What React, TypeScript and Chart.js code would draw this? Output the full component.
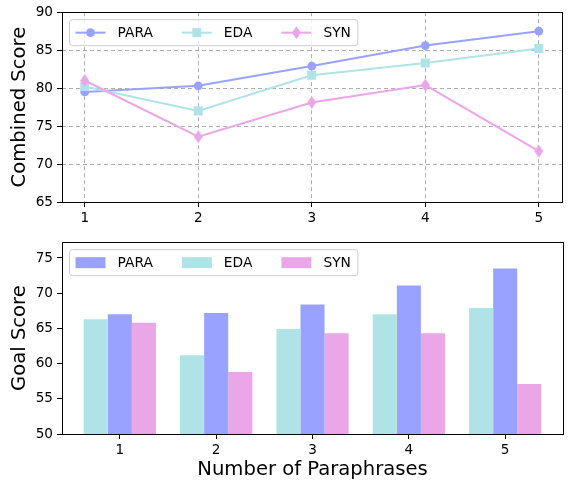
import React, { useEffect, useRef } from 'react';
import { Chart, registerables } from 'chart.js';

Chart.register(...registerables);

const paraphraseCounts = [1, 2, 3, 4, 5];
const seriesNames = ['PARA', 'EDA', 'SYN'];
const combinedPARA = [79.5, 80.3, 82.9, 85.6, 87.5];
const combinedEDA = [80.2, 77.0, 81.7, 83.3, 85.2];
const combinedSYN = [81.0, 73.6, 78.1, 80.4, 71.7];
const goalPARA = [67.0, 67.2, 68.4, 71.1, 73.5];
const goalEDA = [66.3, 61.2, 64.9, 67.0, 67.9];
const goalSYN = [65.8, 58.8, 64.3, 64.3, 57.1];
const combinedTicks = [65, 70, 75, 80, 85, 90];
const goalTicks = [50, 55, 60, 65, 70, 75];

const COLORS: Record<string, string> = { PARA: '#99a3ff', EDA: '#b0e3e6', SYN: '#eba6e8' };
const FONT = 'DejaVu Sans';
const TICK_SIZE = 13.6;
const LEGEND_SIZE = 13.8;
const LABEL_SIZE = 19.6;

function makeThinDiamond(color: string) {
  const c = document.createElement('canvas');
  c.width = 9;
  c.height = 13;
  const g = c.getContext('2d')!;
  g.fillStyle = color;
  g.beginPath();
  g.moveTo(4.5, 0);
  g.lineTo(9, 6.5);
  g.lineTo(4.5, 13);
  g.lineTo(0, 6.5);
  g.closePath();
  g.fill();
  return c;
}

const framePlugin = {
  id: 'frame',
  afterDraw(chart: any) {
    const { ctx, chartArea: a } = chart;
    ctx.save();
    ctx.strokeStyle = '#000';
    ctx.lineWidth = 1;
    ctx.strokeRect(Math.round(a.left) + 0.5, Math.round(a.top) + 0.5, Math.round(a.right - a.left), Math.round(a.bottom - a.top));
    ctx.restore();
  },
};

function drawMarker(ctx: CanvasRenderingContext2D, name: string, x: number, y: number) {
  ctx.fillStyle = COLORS[name];
  ctx.beginPath();
  if (name === 'PARA') {
    ctx.arc(x, y, 4.4, 0, Math.PI * 2);
  } else if (name === 'EDA') {
    ctx.rect(x - 4.5, y - 4.5, 9, 9);
  } else {
    ctx.moveTo(x, y - 6.5);
    ctx.lineTo(x + 4.5, y);
    ctx.lineTo(x, y + 6.5);
    ctx.lineTo(x - 4.5, y);
    ctx.closePath();
  }
  ctx.fill();
}

function insideLegend(kind: 'line' | 'bar') {
  return {
    id: 'insideLegend',
    afterDatasetsDraw(chart: any) {
      const { ctx, chartArea } = chart;
      ctx.save();
      ctx.font = `${LEGEND_SIZE}px "${FONT}"`;
      const labels: string[] = seriesNames.filter((n) => chart.data.datasets.some((d: any) => d.label === n));
      const handle = 30, textPad = 12, colSpace = 29, padL = 6, padR = 7, h = 26;
      const x0 = chartArea.left + 7.5;
      const y0 = chartArea.top + 7.5;
      let w = padL + padR;
      labels.forEach((n, i) => {
        w += handle + textPad + ctx.measureText(n).width + (i < labels.length - 1 ? colSpace : 0);
      });
      ctx.beginPath();
      ctx.roundRect(x0, y0, w, h, 3);
      ctx.fillStyle = 'rgba(255,255,255,0.8)';
      ctx.fill();
      ctx.strokeStyle = '#cccccc';
      ctx.lineWidth = 1;
      ctx.stroke();
      let x = x0 + padL;
      const cy = y0 + h / 2;
      labels.forEach((n) => {
        if (kind === 'line') {
          ctx.strokeStyle = COLORS[n];
          ctx.lineWidth = 2;
          ctx.beginPath();
          ctx.moveTo(x, cy);
          ctx.lineTo(x + handle, cy);
          ctx.stroke();
          drawMarker(ctx, n, x + handle / 2, cy);
        } else {
          ctx.fillStyle = COLORS[n];
          ctx.fillRect(x, cy - 5.5, handle, 11);
        }
        x += handle + textPad;
        ctx.fillStyle = '#000';
        ctx.textBaseline = 'middle';
        ctx.textAlign = 'left';
        ctx.fillText(n, x, cy + 1);
        x += ctx.measureText(n).width + colSpace;
      });
      ctx.restore();
    },
  };
}

function tickList(values: number[]) {
  return (scale: any) => {
    scale.ticks = values.map((v) => ({ value: v }));
  };
}

export default function App() {
  const topRef = useRef<HTMLCanvasElement>(null);
  const botRef = useRef<HTMLCanvasElement>(null);

  useEffect(() => {
    Chart.defaults.font.family = FONT;
    Chart.defaults.color = '#000';

    const pts = (ys: number[]) => paraphraseCounts.map((x, i) => ({ x, y: ys[i] }));
    const styles: Record<string, any> = { PARA: 'circle', EDA: 'rect', SYN: makeThinDiamond(COLORS.SYN) };
    const radii: Record<string, number> = { PARA: 4.4, EDA: 6.4, SYN: 6.5 };
    const lineData: Record<string, number[]> = { PARA: combinedPARA, EDA: combinedEDA, SYN: combinedSYN };

    const top = new Chart(topRef.current!, {
      type: 'line',
      data: {
        datasets: seriesNames.map((n, i) => ({
          label: n,
          data: pts(lineData[n]),
          borderColor: COLORS[n],
          backgroundColor: COLORS[n],
          borderWidth: 2,
          pointStyle: styles[n],
          pointRadius: radii[n],
          pointBorderWidth: 0,
          pointBackgroundColor: COLORS[n],
          order: seriesNames.length - i,
        })),
      },
      options: {
        responsive: false,
        animation: false,
        layout: { padding: { top: 9, right: 5, left: 0, bottom: 0 } },
        plugins: { legend: { display: false }, tooltip: { enabled: false } },
        scales: {
          x: {
            type: 'linear',
            min: 0.8,
            max: 5.2,
            offset: false,
            afterBuildTicks: tickList(paraphraseCounts),
            afterFit: (s: any) => { s.height = 28; },
            ticks: { font: { size: TICK_SIZE }, color: '#000', padding: 3, maxRotation: 0, autoSkip: false },
            grid: { color: '#b0b0b0', lineWidth: 1, tickColor: '#000', tickLength: 5, tickBorderDash: [] },
            border: { display: false, dash: [4, 3] },
          },
          y: {
            type: 'linear',
            min: 65,
            max: 90,
            afterBuildTicks: tickList(combinedTicks),
            afterFit: (s: any) => { s.width = 62; },
            ticks: { font: { size: TICK_SIZE }, color: '#000', padding: 4 },
            grid: { color: '#b0b0b0', lineWidth: 1, tickColor: '#000', tickLength: 5, tickBorderDash: [] },
            border: { display: false, dash: [4, 3] },
            title: { display: true, text: 'Combined Score', font: { size: LABEL_SIZE }, color: '#000', padding: { top: 8, bottom: 0 } },
          },
        },
      } as any,
      plugins: [insideLegend('line'), framePlugin],
    });

    const barData: Record<string, number[]> = { PARA: goalPARA, EDA: goalEDA, SYN: goalSYN };
    const barOrder = ['EDA', 'PARA', 'SYN'];
    const bot = new Chart(botRef.current!, {
      type: 'bar',
      data: {
        datasets: barOrder.map((n) => ({
          label: n,
          data: pts(barData[n]),
          backgroundColor: COLORS[n],
          borderWidth: 0,
          categoryPercentage: 0.75,
          barPercentage: 1.0,
        })),
      },
      options: {
        responsive: false,
        animation: false,
        layout: { padding: { top: 10, right: 5, left: 0, bottom: 0 } },
        plugins: { legend: { display: false }, tooltip: { enabled: false } },
        scales: {
          x: {
            type: 'linear',
            min: 0.4,
            max: 5.6,
            offset: false,
            afterBuildTicks: tickList(paraphraseCounts),
            afterFit: (s: any) => { s.height = 46; },
            ticks: { font: { size: TICK_SIZE }, color: '#000', padding: 3, maxRotation: 0, autoSkip: false },
            grid: { offset: false, drawOnChartArea: false, color: '#000', tickColor: '#000', tickLength: 5 },
            border: { display: false },
            title: { display: true, text: 'Number of Paraphrases', font: { size: LABEL_SIZE }, color: '#000', padding: { top: 0, bottom: -2 } },
          },
          y: {
            type: 'linear',
            min: 50,
            max: 77.25,
            beginAtZero: false,
            afterBuildTicks: tickList(goalTicks),
            afterFit: (s: any) => { s.width = 62; },
            ticks: { font: { size: TICK_SIZE }, color: '#000', padding: 4 },
            grid: { drawOnChartArea: false, color: '#000', tickColor: '#000', tickLength: 5 },
            border: { display: false },
            title: { display: true, text: 'Goal Score', font: { size: LABEL_SIZE }, color: '#000', padding: { top: 8, bottom: 0 } },
          },
        },
      } as any,
      plugins: [insideLegend('bar'), framePlugin],
    });

    return () => {
      top.destroy();
      bot.destroy();
    };
  }, []);

  return (
    <div style={{ position: 'absolute', left: 0, top: 0, width: 568, height: 480, background: '#fff' }}>
      <canvas ref={topRef} width={568} height={230} style={{ position: 'absolute', left: 0, top: 0, display: 'block' }} />
      <canvas ref={botRef} width={568} height={250} style={{ position: 'absolute', left: 0, top: 230, display: 'block' }} />
    </div>
  );
}
